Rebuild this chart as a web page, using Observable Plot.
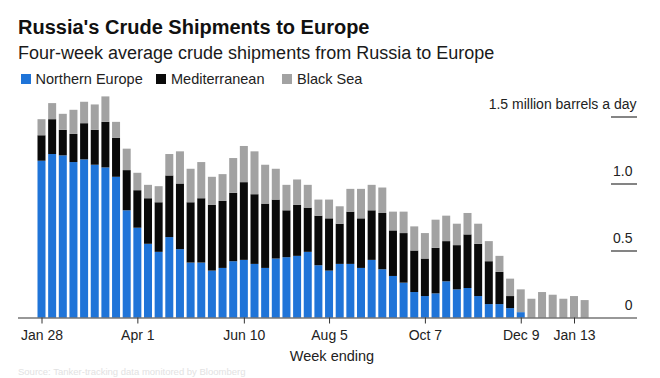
<!DOCTYPE html>
<html>
<head>
<meta charset="utf-8">
<script src="https://cdn.jsdelivr.net/npm/d3@7"></script>
<script src="https://cdn.jsdelivr.net/npm/@observablehq/plot@0.6"></script>
<style>
  html, body { margin: 0; padding: 0; background: #fff; }
  body { width: 660px; height: 378px; position: relative; overflow: hidden;
         font-family: "Liberation Sans", Arial, Helvetica, sans-serif; color: #111; }
  .title { position: absolute; left: 18px; top: 17px; font-size: 20px; line-height: 20px; font-weight: bold; white-space: nowrap; }
  .subtitle { position: absolute; left: 18px; top: 43.5px; font-size: 18px; line-height: 18px; white-space: nowrap; color: #1a1a1a; }
  .legend-item { position: absolute; top: 71.5px; font-size: 14.5px; line-height: 14.5px; white-space: nowrap; color: #222; }
  .legend-item .sw { display: inline-block; width: 10px; height: 10px; margin-right: 5px; vertical-align: 0px; }
  #chart { position: absolute; left: 0; top: 92px; }
  .caption { position: absolute; left: 18px; top: 367px; font-size: 9.5px; line-height: 10px; color: #e2e2e2; white-space: nowrap; }
</style>
</head>
<body>
<div class="title">Russia's Crude Shipments to Europe</div>
<div class="subtitle">Four-week average crude shipments from Russia to Europe</div>
<div id="legend"></div>
<div id="chart"></div>
<div class="caption">Source: Tanker-tracking data monitored by Bloomberg</div>
<script>
// ---- data ----
const seriesNames = ["Northern Europe", "Mediterranean", "Black Sea"];
const seriesColors = ["#1f74d8", "#0a0a0a", "#a2a2a2"];

// week ending (Fridays), Jan 28 2022 – Jan 20 2023
const weeks = d3.utcFriday.range(new Date(Date.UTC(2022, 0, 28)), new Date(Date.UTC(2023, 0, 21)));

const northernEurope = [1.17,1.22,1.21,1.16,1.18,1.14,1.12,1.05,
  0.80,0.67,0.55,0.49,0.60,0.51,0.41,0.41,0.35,0.37,
  0.42,0.43,0.40,0.37,0.44,0.45,0.46,0.49,0.39,
  0.35,0.40,0.40,0.37,0.43,0.36,0.31,0.26,0.19,
  0.16,0.18,0.27,0.21,0.22,0.16,0.10,0.10,0.07,0.04,
  0,0,0,0,0,0];
const mediterranean = [0.19,0.26,0.19,0.21,0.27,0.26,0.34,0.29,
  0.30,0.28,0.34,0.37,0.46,0.49,0.45,0.48,0.49,0.50,
  0.51,0.58,0.52,0.48,0.44,0.35,0.38,0.33,0.37,
  0.39,0.30,0.39,0.37,0.37,0.42,0.34,0.37,0.31,
  0.28,0.34,0.30,0.33,0.40,0.39,0.32,0.24,0.09,0,
  0,0,0,0,0,0];
const blackSea = [0.12,0.12,0.12,0.18,0.16,0.19,0.19,0.12,
  0.16,0.13,0.10,0.12,0.16,0.24,0.25,0.27,0.21,0.20,
  0.26,0.27,0.32,0.29,0.23,0.19,0.19,0.17,0.12,
  0.14,0.13,0.17,0.22,0.19,0.19,0.14,0.16,0.18,
  0.19,0.21,0.19,0.16,0.16,0.15,0.15,0.12,0.13,0.17,
  0.14,0.19,0.17,0.14,0.16,0.13];

const xTickDates = [
  Date.UTC(2022, 0, 28), Date.UTC(2022, 3, 1), Date.UTC(2022, 5, 10),
  Date.UTC(2022, 7, 5), Date.UTC(2022, 9, 7), Date.UTC(2022, 11, 9), Date.UTC(2023, 0, 13)
].map(t => new Date(t));
const yTicks = [0, 0.5, 1.0, 1.5];
const yTickLabels = ["0", "0.5", "1.0", "1.5 million barrels a day"];

// ---- build table ----
const seriesValues = [northernEurope, mediterranean, blackSea];
const data = [];
weeks.forEach((date, i) => {
  seriesNames.forEach((s, k) => data.push({date, series: s, value: seriesValues[k][i]}));
});

// ---- legend ----
const legendLefts = [20.5, 156, 282];
const legend = document.getElementById("legend");
seriesNames.forEach((s, k) => {
  const item = document.createElement("div");
  item.className = "legend-item";
  item.style.left = legendLefts[k] + "px";
  item.innerHTML = `<span class="sw" style="background:${seriesColors[k]}"></span>${s}`;
  legend.appendChild(item);
});

// ---- scale geometry ----
const DAY = 864e5;
const pxPerWeek = 10.65;
const frameLeft = 18, frameRight = 637, firstBarX = 41.5;
const t0 = +weeks[0];
const xDomain = [
  new Date(t0 - (firstBarX - frameLeft) / pxPerWeek * 7 * DAY),
  new Date(t0 + (frameRight - firstBarX) / pxPerWeek * 7 * DAY)
];
const halfBar = 4 / pxPerWeek * 7 * DAY;
const fmt = d3.utcFormat("%b %-d");

const chart = Plot.plot({
  width: 660,
  height: 286,
  marginLeft: frameLeft,
  marginRight: 660 - frameRight,
  marginTop: 24.5,
  marginBottom: 60.5,
  x: {type: "utc", domain: xDomain, axis: null},
  y: {domain: [0, 1.5], axis: null},
  color: {domain: seriesNames, range: seriesColors},
  style: {fontFamily: '"Liberation Sans", Arial, sans-serif', fontSize: "14px", color: "#222", background: "transparent", overflow: "visible"},
  marks: [
    Plot.rect(data, Plot.stackY({
      x: "date",
      x1: d => new Date(+d.date - halfBar),
      x2: d => new Date(+d.date + halfBar),
      y: "value",
      fill: "series"
    })),
    Plot.ruleY([0], {stroke: "#333", strokeWidth: 1.2}),
    Plot.ruleY(yTicks.filter(v => v > 0), {stroke: "#333", strokeWidth: 1.2, insetLeft: (frameRight - frameLeft) - 26}),
    Plot.text(yTicks.filter(v => v < 1.5), {
      y: d => d, text: d => yTickLabels[yTicks.indexOf(d)],
      frameAnchor: "right", textAnchor: "end", lineAnchor: "bottom", dy: -8.5, dx: -5, fill: "#222"
    }),
    Plot.text(yTicks.filter(v => v === 1.5), {
      y: d => d, text: d => yTickLabels[yTicks.indexOf(d)],
      frameAnchor: "right", textAnchor: "end", lineAnchor: "bottom", dy: -8.5, dx: -1, fill: "#222"
    }),
    Plot.axisX({ticks: xTickDates, tickFormat: fmt, tickSize: 6, tickPadding: 6, label: null, stroke: "#333", fontSize: 14}),
    Plot.text(["Week ending"], {frameAnchor: "bottom", dy: 42.5, dx: 4, fontSize: 14.5, fill: "#222"})
  ]
});
document.getElementById("chart").appendChild(chart);
</script>
</body>
</html>
